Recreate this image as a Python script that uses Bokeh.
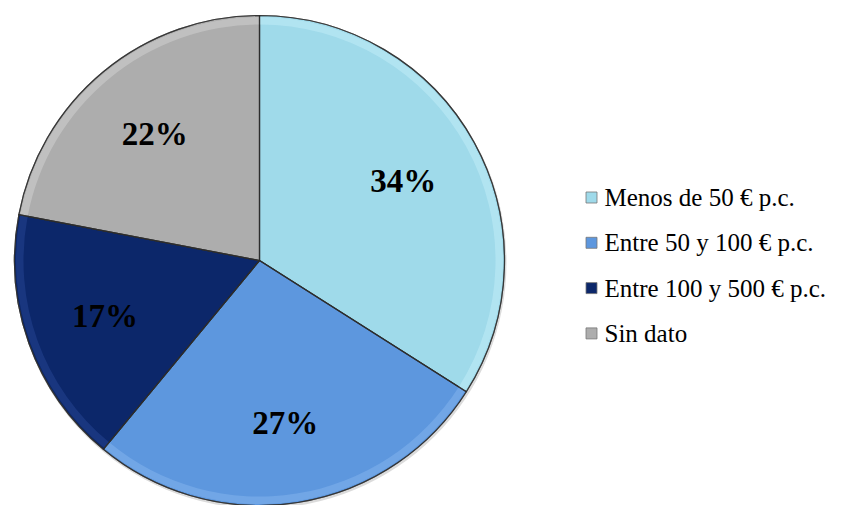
import numpy as np
from bokeh.plotting import figure
from bokeh.models import Range1d, ColumnDataSource
from bokeh.core.properties import value
from bokeh.embed import file_html
from bokeh.resources import INLINE

categories = ["Menos de 50 € p.c.", "Entre 50 y 100 € p.c.", "Entre 100 y 500 € p.c.", "Sin dato"]
shares = [34, 27, 17, 22]
labels = ["34%", "27%", "17%", "22%"]
colors = ["#9fdaea", "#5d97de", "#0c276a", "#adadad"]
edge_light = ["#c8f0fb", "#8ab8f0", "#2a4a9a", "#d6d6d6"]

W, H = 841, 505
p = figure(width=W, height=H, output_backend="svg", toolbar_location=None,
           x_range=Range1d(0, W), y_range=Range1d(-H, 0),
           min_border=0)
p.axis.visible = False
p.grid.visible = False
p.outline_line_color = None
p.background_fill_color = "white"

cx, cy, r = 259, -260, 245
vals = np.array(shares, dtype=float)
frac = vals / vals.sum()
cum = np.concatenate([[0], np.cumsum(frac)])
start = np.pi / 2 - cum[:-1] * 2 * np.pi
end = np.pi / 2 - cum[1:] * 2 * np.pi
mid = (start + end) / 2

src = ColumnDataSource(dict(start=start, end=end, color=colors, light=edge_light,
                            lx=cx + 0.67 * r * np.cos(mid), ly=cy + 0.67 * r * np.sin(mid),
                            label=labels))

# soft shadow
p.wedge(x=cx + 1, y=cy - 2, radius=r + 1, start_angle=0, end_angle=2 * np.pi,
        fill_color="#999999", fill_alpha=0.35, line_color=None)
# main wedges
p.wedge(x=cx, y=cy, radius=r, start_angle="end", end_angle="start", source=src,
        fill_color="color", line_color="#333333", line_width=1.2, line_alpha=0.8)
# bevel highlight near outer rim
p.annular_wedge(x=cx, y=cy, inner_radius=r - 9, outer_radius=r - 1.5, start_angle="end",
                end_angle="start", source=src, fill_color="light", fill_alpha=0.45, line_color=None)
# redraw separators
p.wedge(x=cx, y=cy, radius=r, start_angle="end", end_angle="start", source=src,
        fill_color=None, line_color="#2b2b2b", line_width=1.2, line_alpha=0.7)

p.text(x="lx", y="ly", text="label", source=src, text_align="center", text_baseline="middle",
       text_font=value("Liberation Serif"), text_font_style="bold", text_font_size="33px",
       text_color="black")

# legend
ly0 = -197
dy = -45.3
leg_y = [ly0 + i * dy for i in range(len(categories))]
p.rect(x=[591] * len(categories), y=leg_y, width=11, height=11, fill_color=colors,
       line_color="#777777", line_width=0.8)
p.text(x=[604] * len(categories), y=leg_y, text=categories, text_baseline="middle",
       text_font=value("Liberation Serif"), text_font_size="25px", text_color="black")

open("out.html", "w").write(file_html(p, INLINE))
